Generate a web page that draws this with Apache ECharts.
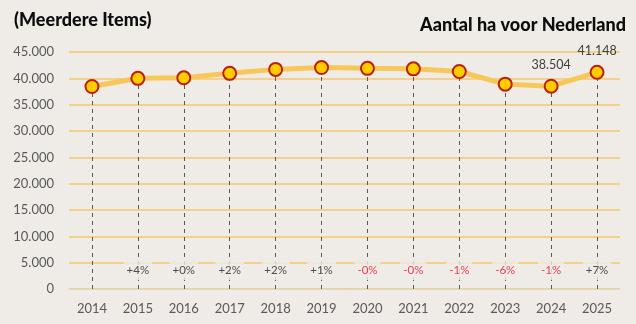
<!DOCTYPE html>
<html>
<head>
<meta charset="utf-8">
<script src="https://cdn.jsdelivr.net/npm/echarts@6/dist/echarts.min.js"></script>
<style>
  html, body { margin: 0; padding: 0; background: #efebe7; }
  #chart { width: 636px; height: 324px; }
</style>
</head>
<body>
<div id="chart"></div>
<script>
// Hectares per year for the Netherlands
const years = ['2014', '2015', '2016', '2017', '2018', '2019', '2020', '2021', '2022', '2023', '2024', '2025'];
const hectares = [38450, 40000, 40100, 40950, 41700, 42050, 41900, 41800, 41300, 38900, 38504, 41148];
// Years whose value is printed above the marker
const labelledYears = ['2024', '2025'];
// Height at which the year-on-year change labels sit
const changeLabelLevel = 3600;

const fmtThousands = v => String(Math.round(v)).replace(/\B(?=(\d{3})+(?!\d))/g, '.');

// Year-on-year change, rounded to whole percent, keeping the sign of the raw change
const changes = hectares.map((v, i) => {
  if (i === 0) return null;
  const pct = (v - hectares[i - 1]) / hectares[i - 1] * 100;
  const sign = pct < 0 ? '-' : '+';
  return { text: sign + Math.round(Math.abs(pct)) + '%', negative: pct < 0 };
});

const chart = echarts.init(document.getElementById('chart'));
const fontFamily = 'Lato, "Open Sans", sans-serif';

chart.setOption({
  backgroundColor: '#efebe7',
  animation: false,
  title: [
    {
      text: '(Meerdere Items)', left: 9, top: 6,
      textStyle: { fontFamily, fontSize: 18, fontWeight: 900, color: '#0d0d0d' }
    },
    {
      text: 'Aantal ha voor Nederland', right: 5, top: 11,
      textStyle: { fontFamily, fontSize: 18, fontWeight: 900, color: '#0d0d0d' }
    }
  ],
  grid: { left: 69, right: 16, top: 52, bottom: 35 },
  xAxis: {
    type: 'category',
    data: years,
    boundaryGap: true,
    axisLine: { lineStyle: { color: '#d9d9d9', width: 1 } },
    axisTick: { show: false },
    axisLabel: { color: '#595959', fontFamily, fontSize: 13, margin: 13 }
  },
  yAxis: {
    type: 'value',
    min: 0, max: 45000, interval: 5000,
    axisLine: { show: false },
    axisTick: { show: false },
    axisLabel: { color: '#595959', fontFamily, fontSize: 13, margin: 15, formatter: v => fmtThousands(v) },
    splitLine: { lineStyle: { color: '#f5c86e', width: 1.5 } }
  },
  series: [
    {
      type: 'line',
      data: hectares.map((v, i) => ({
        value: v,
        label: labelledYears.includes(years[i]) ? { show: true } : { show: false }
      })),
      z: 5,
      lineStyle: { color: '#f8c75a', width: 5 },
      symbol: 'circle',
      symbolSize: 13,
      itemStyle: { color: '#ffcc00', borderColor: '#b8200c', borderWidth: 2 },
      label: {
        position: 'top', distance: 7,
        color: '#404040', fontFamily, fontSize: 12.5,
        formatter: p => fmtThousands(p.value)
      },
      markLine: {
        silent: true,
        symbol: 'none',
        label: { show: false },
        lineStyle: { color: '#595959', type: [4, 4], width: 1 },
        data: hectares.map((v, i) => [
          { coord: [i, 0] },
          { coord: [i, v] }
        ])
      }
    },
    {
      type: 'scatter',
      symbolSize: 0,
      z: 10,
      data: changes.map((c, i) => c ? {
        value: [i, changeLabelLevel],
        label: { formatter: c.text, color: c.negative ? '#e8102a' : '#262626' }
      } : null).filter(Boolean),
      label: {
        show: true, position: 'inside',
        fontFamily, fontSize: 11.5,
        backgroundColor: '#efebe7',
        padding: [4, 3]
      }
    }
  ]
});
</script>
</body>
</html>
